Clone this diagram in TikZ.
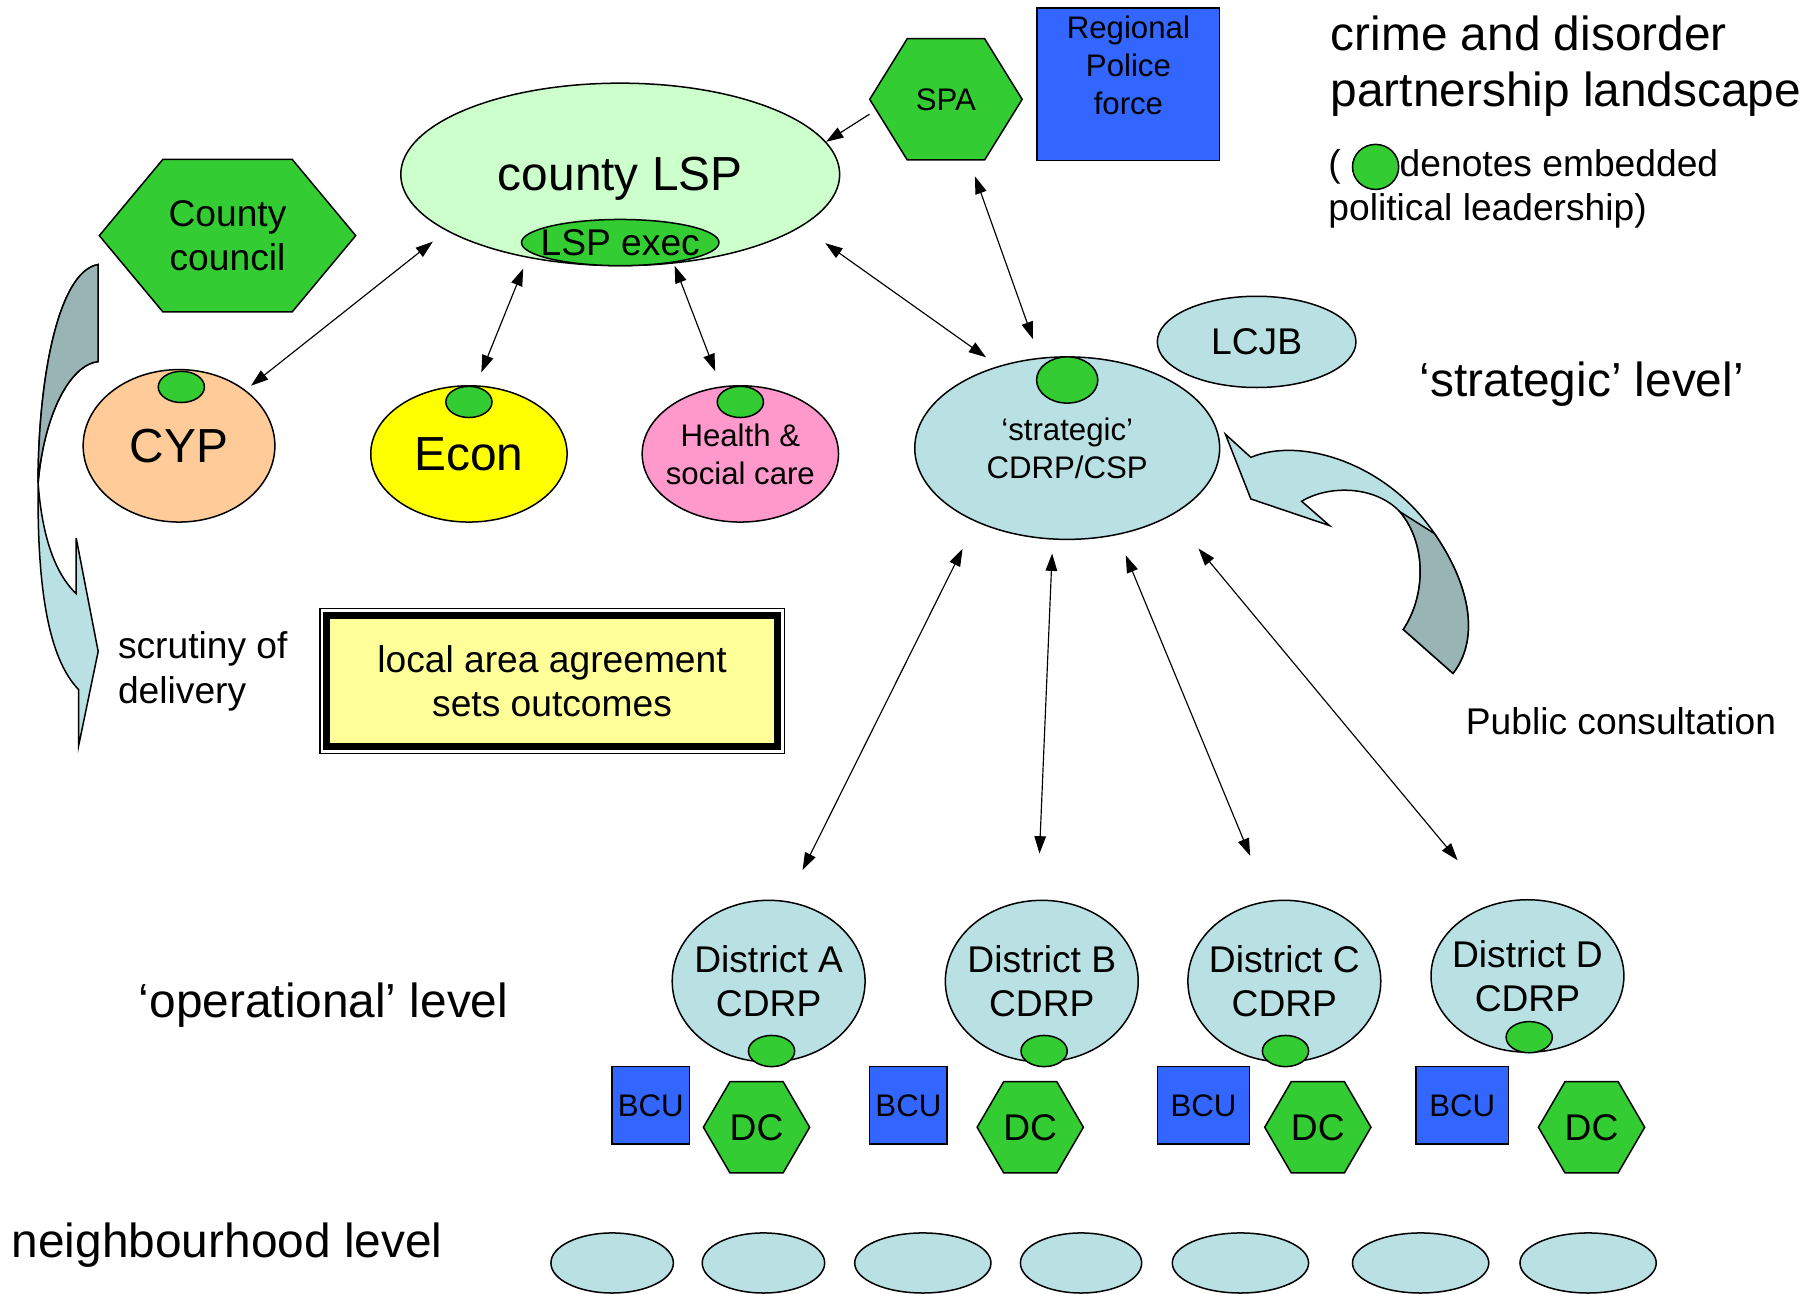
\documentclass[tikz,border=0pt]{standalone}
\usepackage{fontspec}
\setmainfont{Liberation Sans}
\usetikzlibrary{calc,shapes.geometric,arrows.meta}
\definecolor{lspgreen}{HTML}{CCFFCC}
\definecolor{polgreen}{HTML}{33CC33}
\definecolor{policeblue}{HTML}{3366FF}
\definecolor{cypcol}{HTML}{FFCC99}
\definecolor{econcol}{HTML}{FFFF00}
\definecolor{healthcol}{HTML}{FF99CC}
\definecolor{cdrpblue}{HTML}{B9E0E3}
\definecolor{arrowdark}{HTML}{99B4B5}
\definecolor{laacol}{HTML}{FFFF99}
\def\hexagon[#1](#2)(#3:#4:#5){\draw[#1] ($(#2)+(-#3,0)$) -- ($(#2)+(-#5,-#4)$) -- ($(#2)+(#5,-#4)$) -- ($(#2)+(#3,0)$) -- ($(#2)+(#5,#4)$) -- ($(#2)+(-#5,#4)$) -- cycle;}

\tikzset{
	bigtxt/.style={font=\fontsize{41.4}{48}\selectfont},
	midtxt/.style={font=\fontsize{32.2}{38}\selectfont},
	smalltxt/.style={font=\fontsize{27}{33}\selectfont},
	ellnode/.style={ellipse, draw, line width=1.3pt, inner sep=0pt},
	lead/.style={ellipse, draw, line width=1.3pt, fill=polgreen, inner sep=0pt, minimum width=40, minimum height=27},
	bcubox/.style={rectangle, draw, line width=1.3pt, fill=policeblue, inner sep=0pt},
	hexfill/.style={fill=polgreen, line width=1.3pt},
	laabox/.style={rectangle, draw, line width=6pt, fill=laacol, inner sep=0pt},
	biarrow/.style={{Triangle[length=15pt,width=10pt]}-{Triangle[length=15pt,width=10pt]}, line width=1pt},
	onearrow/.style={-{Triangle[length=15pt,width=10pt]}, line width=1pt},
}

\begin{document}
\begin{tikzpicture}[x=1pt,y=-1pt]
			%%%%% START %%%%%
			\useasboundingbox (0,0) rectangle (1568,1120);
			
			% scrutiny arrow on the left
			\draw[fill=cdrpblue, line width=1.3pt] (85,229) .. controls (50,235) and (33,330) .. (33,418) .. controls (32,510) and (42,570) .. (68,597) -- (68,646) -- (85,564) -- (66,466) -- (66,514) .. controls (46,495) and (36,460) .. (33,418) .. controls (38,360) and (60,316) .. (85,313) -- cycle;
			\draw[fill=arrowdark, line width=1.3pt] (85,229) .. controls (50,235) and (33,330) .. (33,418) .. controls (38,360) and (60,316) .. (85,313) -- cycle;
			
			% public consultation arrow
			\draw[fill=cdrpblue, line width=1.3pt] (1061,376) -- (1083,396) .. controls (1125,378) and (1200,400) .. (1242,462) .. controls (1275,510) and (1280,555) .. (1258,583) -- (1215,545) .. controls (1235,515) and (1235,470) .. (1212,443) .. controls (1190,420) and (1150,420) .. (1127,434) -- (1151,455) -- (1083,432) -- cycle;
			\draw[fill=arrowdark, line width=1.3pt] (1212,443) .. controls (1235,470) and (1235,515) .. (1215,545) -- (1258,583) .. controls (1280,555) and (1275,510) .. (1242,462) -- cycle;
			
			% county level
			\node[ellnode, fill=lspgreen, minimum width=380, minimum height=158, label={[bigtxt, yshift=-4pt]center:county LSP}] (lsp) at (537,151) {};
			\node[ellnode, fill=polgreen, minimum width=171, minimum height=40, label={[midtxt]center:LSP exec}] (lspexec) at (537,210) {};
			
			\hexagon[hexfill](197,204)(111:66:56)
			\node[midtxt, align=center, minimum width=222, minimum height=132, inner sep=0pt] (council) at (197,204) {County\\council};
			
			\hexagon[hexfill](819,86)(66:52.5:33.5)
			\node[smalltxt, minimum width=132, minimum height=105, inner sep=0pt] (spa) at (819,86) {SPA};
			
			\node[bcubox, minimum width=158, minimum height=132, label={[smalltxt, align=center, anchor=north, inner sep=0pt, yshift=-7pt]north:Regional\\Police\\force}] (police) at (977,73) {};
			
			\node[ellnode, fill=cypcol, minimum width=166, minimum height=132, label={[bigtxt]center:CYP}] (cyp) at (155,386) {};
			\node[lead] (cyplead) at (157,335) {};
			
			\node[ellnode, fill=econcol, minimum width=170, minimum height=118, label={[bigtxt]center:Econ}] (econ) at (406,393) {};
			\node[lead] (econlead) at (406,348) {};
			
			\node[ellnode, fill=healthcol, minimum width=170, minimum height=118, label={[smalltxt, align=center]center:Health \&\\social care}] (health) at (641,393) {};
			\node[lead] (healthlead) at (641,348) {};
			
			% strategic level
			\node[ellnode, fill=cdrpblue, minimum width=264, minimum height=158, label={[smalltxt, align=center]center:‘strategic’\\CDRP/CSP}] (cdrp) at (924,388) {};
			\node[lead, minimum width=53, minimum height=40] (cdrplead) at (924,329) {};
			
			\node[ellnode, fill=cdrpblue, minimum width=172, minimum height=79, label={[midtxt]center:LCJB}] (lcjb) at (1088,296) {};
			
			% districts
			\node[ellnode, fill=cdrpblue, minimum width=167, minimum height=140, label={[midtxt, align=center]center:District A\\CDRP}] (distA) at (665.5,849.5) {};
			\node[lead] (leadA) at (668,910) {};
			\node[ellnode, fill=cdrpblue, minimum width=167, minimum height=140, label={[midtxt, align=center]center:District B\\CDRP}] (distB) at (902,849.5) {};
			\node[lead] (leadB) at (904,910) {};
			\node[ellnode, fill=cdrpblue, minimum width=167, minimum height=140, label={[midtxt, align=center]center:District C\\CDRP}] (distC) at (1112,849.5) {};
			\node[lead] (leadC) at (1113,910) {};
			\node[ellnode, fill=cdrpblue, minimum width=167, minimum height=132, label={[midtxt, align=center]center:District D\\CDRP}] (distD) at (1322.5,845) {};
			\node[lead] (leadD) at (1324,898) {};
			
			\node[bcubox, smalltxt, minimum width=67, minimum height=67] (bcuA) at (563.5,957) {BCU};
			\node[bcubox, smalltxt, minimum width=67, minimum height=67] (bcuB) at (786.5,957) {BCU};
			\node[bcubox, smalltxt, minimum width=80, minimum height=67] (bcuC) at (1042,957) {BCU};
			\node[bcubox, smalltxt, minimum width=80, minimum height=67] (bcuD) at (1266,957) {BCU};
			
			\hexagon[hexfill](655,976)(46:39.5:23)
			\node[midtxt] (dcA) at (655,976) {DC};
			\hexagon[hexfill](892,976)(46:39.5:23)
			\node[midtxt] (dcB) at (892,976) {DC};
			\hexagon[hexfill](1141,976)(46:39.5:23)
			\node[midtxt] (dcC) at (1141,976) {DC};
			\hexagon[hexfill](1378,976)(46:39.5:23)
			\node[midtxt] (dcD) at (1378,976) {DC};
			
			% neighbourhoods
			\node[ellnode, fill=cdrpblue, minimum width=106, minimum height=52] (nbh1) at (530,1093.5) {};
			\node[ellnode, fill=cdrpblue, minimum width=106, minimum height=52] (nbh2) at (661,1093.5) {};
			\node[ellnode, fill=cdrpblue, minimum width=118, minimum height=52] (nbh3) at (799,1093.5) {};
			\node[ellnode, fill=cdrpblue, minimum width=105, minimum height=52] (nbh4) at (936,1093.5) {};
			\node[ellnode, fill=cdrpblue, minimum width=118, minimum height=52] (nbh5) at (1074,1093.5) {};
			\node[ellnode, fill=cdrpblue, minimum width=118, minimum height=52] (nbh6) at (1230,1093.5) {};
			\node[ellnode, fill=cdrpblue, minimum width=118, minimum height=52] (nbh7) at (1375,1093.5) {};
			
			% local area agreement
			\node[laabox, midtxt, align=center, minimum width=390, minimum height=114] (laa) at (478,589.5) {local area agreement\\sets outcomes};
			\draw[line width=1pt] ($(laa.north west)+(-3,-3)$) rectangle ($(laa.south east)+(3,3)$);
			
			% connectors
			\draw[biarrow, shorten <=6pt, shorten >=15pt] (cyp.40) -- (lsp.198);
			\draw[biarrow, shorten <=12pt, shorten >=10pt] (econ.84) -- (lsp.222);
			\draw[biarrow, shorten <=14pt, shorten >=2pt] (health.106) -- (lsp.301);
			\draw[onearrow] (spa.191) -- (lsp.9);
			\draw[biarrow, shorten <=25pt, shorten >=13pt] (lsp.344) -- (cdrp.130);
			\draw[biarrow, shorten <=15pt, shorten >=17pt] (spa.291) -- (cdrp.107);
			\draw[biarrow, shorten <=26pt, shorten >=30pt] (cdrp.219) -- (distA.77);
			\draw[biarrow, shorten <=12pt, shorten >=40pt] (cdrp.261) -- (distB.93);
			\draw[biarrow, shorten <=19pt, shorten >=42pt] (cdrp.300) -- (distC.101);
			\draw[biarrow, shorten <=37pt, shorten >=49pt] (cdrp.327) -- (distD.115);
			
			% texts
			\node[bigtxt, anchor=base west, inner sep=0pt] (title1) at (1152,44) {crime and disorder};
			\node[bigtxt, anchor=base west, inner sep=0pt] (title2) at (1152,92) {partnership landscape};
			\node[midtxt, anchor=base west, inner sep=0pt] (legend1) at (1150,153) {(\hspace{51pt}denotes embedded};
			\node[midtxt, anchor=base west, inner sep=0pt] (legend2) at (1150,191) {political leadership)};
			\node[lead, minimum width=40, minimum height=39] (legendlead) at (1191,144.5) {};
			\node[bigtxt, anchor=base west, inner sep=0pt] (strategic) at (1229,343) {‘strategic’ level’};
			\node[bigtxt, anchor=base west, inner sep=0pt] (operational) at (120,881) {‘operational’ level};
			\node[bigtxt, anchor=base west, inner sep=0pt] (neighbourhood) at (10,1089) {neighbourhood level};
			\node[midtxt, anchor=base west, inner sep=0pt] (scrutiny1) at (102,570) {scrutiny of};
			\node[midtxt, anchor=base west, inner sep=0pt] (scrutiny2) at (102,609) {delivery};
			\node[midtxt, anchor=base west, inner sep=0pt] (public) at (1269,636) {Public consultation};
			%%%%% END %%%%%
\end{tikzpicture}
\end{document}
